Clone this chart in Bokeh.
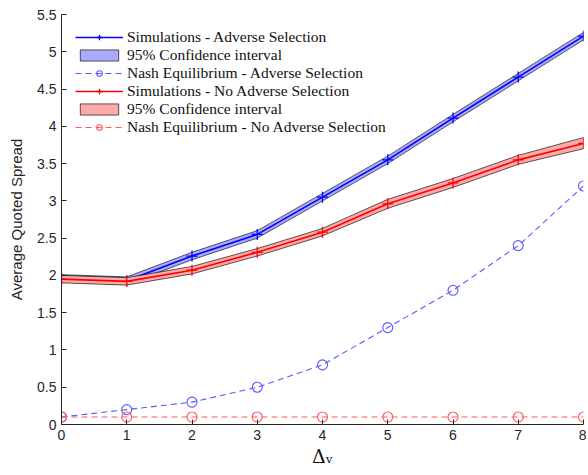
from bokeh.plotting import figure
from bokeh.models import Legend, LegendItem, FixedTicker, Range1d
from bokeh.embed import file_html
from bokeh.resources import INLINE

x = [0, 1, 2, 3, 4, 5, 6, 7, 8]
sim_adv = [1.96, 1.93, 2.26, 2.55, 3.05, 3.55, 4.11, 4.66, 5.21]
sim_adv_lo = [1.91, 1.88, 2.21, 2.50, 3.00, 3.50, 4.06, 4.61, 5.16]
sim_adv_hi = [2.01, 1.98, 2.31, 2.60, 3.10, 3.60, 4.16, 4.71, 5.26]
sim_noadv = [1.95, 1.92, 2.07, 2.31, 2.58, 2.96, 3.24, 3.55, 3.77]
sim_noadv_lo = [1.90, 1.87, 2.02, 2.26, 2.53, 2.90, 3.18, 3.49, 3.70]
sim_noadv_hi = [2.00, 1.97, 2.12, 2.36, 2.63, 3.02, 3.30, 3.61, 3.85]
nash_adv = [0.1, 0.2, 0.3, 0.5, 0.8, 1.3, 1.8, 2.4, 3.2]
nash_noadv = [0.1, 0.1, 0.1, 0.1, 0.1, 0.1, 0.1, 0.1, 0.1]
y_ticks = [0, 0.5, 1, 1.5, 2, 2.5, 3, 3.5, 4, 4.5, 5, 5.5]
y_tick_labels = ["0", "0.5", "1", "1.5", "2", "2.5", "3", "3.5", "4", "4.5", "5", "5.5"]
x_ticks = [0, 1, 2, 3, 4, 5, 6, 7, 8]
labels = ["Simulations - Adverse Selection", "95% Confidence interval",
          "Nash Equilibrium - Adverse Selection", "Simulations - No Adverse Selection",
          "95% Confidence interval", "Nash Equilibrium - No Adverse Selection"]

p = figure(width=586, height=472, output_backend="svg", toolbar_location=None,
           x_range=Range1d(0, 8), y_range=Range1d(0, 5.5),
           min_border_left=61, min_border_right=3, min_border_top=14, min_border_bottom=48)
p.outline_line_color = None
p.xgrid.visible = False
p.ygrid.visible = False
p.background_fill_color = "white"

axc = "#262626"
for ax in (p.xaxis[0], p.yaxis[0]):
    ax.axis_line_color = axc
    ax.major_tick_line_color = axc
    ax.major_tick_in = 5
    ax.major_tick_out = 0
    ax.minor_tick_line_color = None
    ax.major_label_text_font = "'Liberation Sans'"
    ax.major_label_text_font_size = "14px"
    ax.major_label_text_color = axc

p.yaxis.ticker = FixedTicker(ticks=y_ticks)
p.yaxis.major_label_overrides = {float(t): l for t, l in zip(y_ticks, y_tick_labels)}
p.xaxis.ticker = FixedTicker(ticks=x_ticks)
p.yaxis.axis_label = "Average Quoted Spread"
p.yaxis.axis_label_text_font = "'Liberation Sans'"
p.yaxis.axis_label_text_font_style = "normal"
p.yaxis.axis_label_text_font_size = "15px"
p.yaxis.axis_label_text_color = axc
p.yaxis.axis_label_standoff = 9
p.xaxis.axis_label = "Δᵥ"
p.xaxis.axis_label_text_font = "'DejaVu Serif'"
p.xaxis.axis_label_text_font_style = "normal"
p.xaxis.axis_label_text_font_size = "19px"
p.xaxis.axis_label_text_color = "#111111"
p.xaxis.axis_label_standoff = 2

def band(lo, hi, color):
    xs = list(x) + list(reversed(x))
    ys = list(hi) + list(reversed(lo))
    return p.patch(xs, ys, fill_color=color, fill_alpha=1.0, line_color="black", line_width=0.8, line_alpha=0.8)

b1 = band(sim_adv_lo, sim_adv_hi, "#AAAAFF")
l1 = p.line(x, sim_adv, line_color="#0000FF", line_width=1.6)
m1 = p.scatter(x, sim_adv, marker="cross", size=11, line_color="#0000FF", line_width=1.3)
n1 = p.line(x, nash_adv, line_color="#5959FF", line_width=1.1, line_dash="6 4")
nm1 = p.scatter(x, nash_adv, marker="circle", size=10, fill_color=None, line_color="#5959FF", line_width=1.1)

b2 = band(sim_noadv_lo, sim_noadv_hi, "#FFAAAA")
l2 = p.line(x, sim_noadv, line_color="#FF0000", line_width=1.6)
m2 = p.scatter(x, sim_noadv, marker="cross", size=11, line_color="#FF0000", line_width=1.3)
n2 = p.line(x, nash_noadv, line_color="#FF5959", line_width=1.1, line_dash="6 4")
nm2 = p.scatter(x, nash_noadv, marker="circle", size=10, fill_color=None, line_color="#FF5959", line_width=1.1)

items = [
    LegendItem(label=labels[0], renderers=[l1, m1]),
    LegendItem(label=labels[1], renderers=[b1]),
    LegendItem(label=labels[2], renderers=[n1, nm1]),
    LegendItem(label=labels[3], renderers=[l2, m2]),
    LegendItem(label=labels[4], renderers=[b2]),
    LegendItem(label=labels[5], renderers=[n2, nm2]),
]
legend = Legend(items=items, location="top_left")
legend.background_fill_alpha = 0
legend.border_line_color = None
legend.label_text_font = "'Liberation Serif'"
legend.label_text_font_size = "15.5px"
legend.label_text_color = "#111111"
legend.glyph_width = 48
legend.glyph_height = 14
legend.label_height = 14
legend.spacing = 0
legend.padding = 2
legend.margin = 14
legend.label_standoff = 4
p.add_layout(legend)

open("out.html", "w").write(file_html(p, INLINE))
